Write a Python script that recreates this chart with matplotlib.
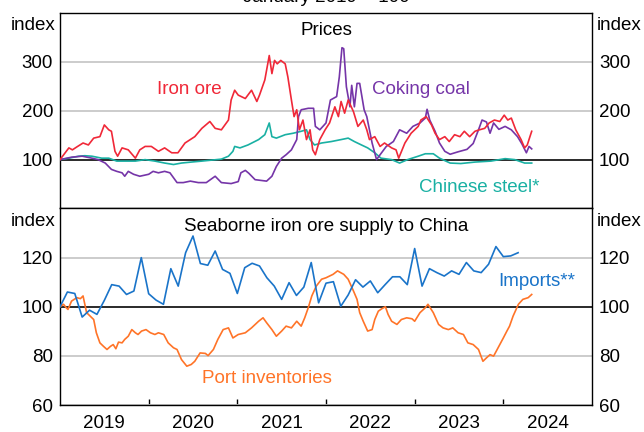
import matplotlib.pyplot as plt
from matplotlib.ticker import FixedLocator, NullFormatter

plt.rcParams['font.family'] = ['Liberation Sans', 'DejaVu Sans']

# ---- data: decimal years, index January 2019 = 100 ----
iron_dates = [2019.00, 2019.10, 2019.14, 2019.19, 2019.26, 2019.32, 2019.38, 2019.45, 2019.50, 2019.55,
              2019.58, 2019.62, 2019.65, 2019.70, 2019.77, 2019.85, 2019.90, 2019.96, 2020.03, 2020.11,
              2020.18, 2020.26, 2020.33, 2020.41, 2020.52, 2020.60, 2020.69, 2020.75, 2020.82, 2020.90,
              2020.93, 2020.97, 2021.01, 2021.09, 2021.16, 2021.22, 2021.25, 2021.31, 2021.36, 2021.39,
              2021.42, 2021.45, 2021.49, 2021.54, 2021.57, 2021.61, 2021.64, 2021.67, 2021.70, 2021.74,
              2021.78, 2021.82, 2021.85, 2021.88, 2021.93, 2021.99, 2022.04, 2022.10, 2022.14, 2022.17,
              2022.21, 2022.25, 2022.31, 2022.36, 2022.42, 2022.46, 2022.49, 2022.55, 2022.61, 2022.66,
              2022.74, 2022.79, 2022.82, 2022.89, 2022.96, 2023.04, 2023.07, 2023.13, 2023.19, 2023.23,
              2023.28, 2023.34, 2023.39, 2023.45, 2023.51, 2023.56, 2023.62, 2023.68, 2023.73, 2023.79,
              2023.84, 2023.90, 2023.96, 2024.01, 2024.05, 2024.09, 2024.14, 2024.20, 2024.24, 2024.27,
              2024.30, 2024.32]
iron_ore = [100, 124, 120, 126, 134, 130, 144, 147, 171, 161,
            158, 117, 107, 124, 120, 103, 120, 127, 127, 117,
            124, 114, 114, 134, 147, 164, 178, 164, 161, 181,
            222, 242, 232, 225, 242, 219, 232, 263, 313, 276,
            303, 296, 303, 296, 269, 222, 188, 202, 161, 181,
            141, 161, 120, 110, 141, 161, 175, 208, 188, 219,
            195, 222, 198, 168, 181, 161, 141, 147, 127, 134,
            124, 120, 103, 134, 154, 168, 181, 188, 171, 154,
            141, 147, 137, 151, 147, 158, 147, 158, 161, 164,
            175, 181, 178, 191, 181, 185, 161, 141, 124, 130,
            147, 158]

coal_dates = [2019.00, 2019.13, 2019.25, 2019.36, 2019.43, 2019.51, 2019.58, 2019.64, 2019.70, 2019.73,
              2019.77, 2019.83, 2019.90, 2020.00, 2020.05, 2020.11, 2020.18, 2020.24, 2020.32, 2020.39,
              2020.47, 2020.56, 2020.65, 2020.75, 2020.82, 2020.93, 2021.01, 2021.04, 2021.09, 2021.13,
              2021.20, 2021.33, 2021.39, 2021.44, 2021.50, 2021.55, 2021.61, 2021.67, 2021.69, 2021.72,
              2021.80, 2021.86, 2021.88, 2021.93, 2022.00, 2022.05, 2022.12, 2022.15, 2022.18, 2022.20,
              2022.23, 2022.27, 2022.29, 2022.32, 2022.35, 2022.38, 2022.43, 2022.46, 2022.52, 2022.57,
              2022.61, 2022.68, 2022.76, 2022.83, 2022.91, 2022.98, 2023.06, 2023.12, 2023.14, 2023.17,
              2023.23, 2023.28, 2023.34, 2023.40, 2023.49, 2023.59, 2023.66, 2023.72, 2023.76, 2023.81,
              2023.85, 2023.89, 2023.95, 2024.02, 2024.09, 2024.16, 2024.21, 2024.26, 2024.29, 2024.32]
coking_coal = [100, 105, 107, 103, 100, 93, 80, 76, 73, 66,
               76, 70, 66, 70, 76, 73, 76, 73, 53, 53,
               56, 53, 53, 66, 53, 51, 55, 73, 78, 72,
               59, 56, 66, 86, 103, 110, 120, 141, 188, 202,
               205, 205, 168, 161, 175, 222, 229, 269, 329, 327,
               249, 208, 252, 208, 256, 256, 202, 188, 134, 100,
               110, 127, 137, 161, 154, 168, 175, 185, 203, 181,
               158, 134, 117, 111, 116, 121, 133, 161, 181, 177,
               154, 175, 162, 168, 161, 147, 132, 114, 127, 122]

steel_dates = [2019.00, 2019.10, 2019.21, 2019.28, 2019.36, 2019.47, 2019.55, 2019.64, 2019.73, 2019.85,
               2019.96, 2020.07, 2020.18, 2020.28, 2020.37, 2020.48, 2020.60, 2020.71, 2020.82, 2020.90,
               2020.95, 2020.97, 2021.03, 2021.12, 2021.24, 2021.31, 2021.36, 2021.39, 2021.44, 2021.54,
               2021.63, 2021.72, 2021.78, 2021.82, 2021.87, 2021.95, 2022.06, 2022.17, 2022.25, 2022.32,
               2022.40, 2022.47, 2022.55, 2022.62, 2022.74, 2022.83, 2022.92, 2023.04, 2023.12, 2023.21,
               2023.28, 2023.40, 2023.52, 2023.68, 2023.86, 2024.02, 2024.13, 2024.24, 2024.32]
chinese_steel = [100, 103, 107, 108, 107, 103, 103, 97, 97, 97,
                 100, 97, 93, 90, 93, 95, 97, 99, 101, 107,
                 117, 127, 124, 130, 141, 151, 175, 147, 144, 151,
                 154, 158, 161, 141, 130, 134, 137, 141, 144, 137,
                 130, 124, 114, 103, 100, 93, 100, 107, 112, 112,
                 103, 93, 92, 95, 97, 102, 100, 93, 93]

# monthly imports, Jan 2019 - Mar 2024
import_months = [2019 + m / 12 for m in range(63)]
imports = [100, 106, 105.4, 95.8, 98.6, 96.9, 102.6, 109, 108.4, 105, 106.4, 120,
           105.3, 102.7, 101, 115.5, 108.4, 122, 128.8, 117.6, 116.9, 122.7, 115.2, 113.6,
           105.4, 115.9, 117.7, 116.6, 111.8, 108.4, 103, 109.8, 104.6, 108, 118, 101.6,
           109.6, 110.2, 100.2, 104.8, 111, 108, 110.5, 105.7, 109, 112.2, 112.2, 109,
           123.7, 108.4, 115.5, 113.9, 112.5, 114.6, 113.2, 118, 114.6, 113.9, 117.3, 124.5,
           120.4, 120.7, 122]

port_dates = [2019.00, 2019.04, 2019.07, 2019.09, 2019.13, 2019.19, 2019.23, 2019.26, 2019.30, 2019.34,
              2019.38, 2019.41, 2019.45, 2019.49, 2019.53, 2019.57, 2019.60, 2019.63, 2019.66, 2019.70,
              2019.73, 2019.77, 2019.81, 2019.85, 2019.88, 2019.92, 2019.97, 2020.02, 2020.07, 2020.11,
              2020.17, 2020.22, 2020.28, 2020.32, 2020.37, 2020.43, 2020.48, 2020.52, 2020.58, 2020.64,
              2020.67, 2020.73, 2020.78, 2020.84, 2020.90, 2020.95, 2021.01, 2021.09, 2021.16, 2021.24,
              2021.29, 2021.33, 2021.39, 2021.44, 2021.50, 2021.55, 2021.61, 2021.67, 2021.72, 2021.76,
              2021.80, 2021.84, 2021.89, 2021.95, 2022.00, 2022.08, 2022.13, 2022.20, 2022.25, 2022.31,
              2022.35, 2022.38, 2022.42, 2022.47, 2022.52, 2022.55, 2022.59, 2022.63, 2022.67, 2022.70,
              2022.74, 2022.80, 2022.85, 2022.91, 2022.97, 2023.00, 2023.06, 2023.12, 2023.15, 2023.21,
              2023.27, 2023.32, 2023.38, 2023.43, 2023.49, 2023.55, 2023.60, 2023.66, 2023.72, 2023.77,
              2023.81, 2023.85, 2023.89, 2023.92, 2023.96, 2024.00, 2024.04, 2024.07, 2024.11, 2024.17,
              2024.22, 2024.28, 2024.32]
port_inventories = [100, 101, 99.6, 98.9, 102.3, 103.7, 103.3, 104.4, 97.6, 96.2,
                    94.8, 89.4, 85.3, 83.9, 82.6, 83.9, 84.6, 82.9, 85.6, 85.3,
                    86.7, 88, 90.7, 89.4, 88.7, 90.1, 90.7, 89.4, 88.7, 89.4,
                    88.7, 85.3, 83.3, 82.6, 78.5, 75.8, 76.5, 77.8, 81.2, 81,
                    80.1, 82.6, 86.7, 90.7, 91.4, 87.3, 88.7, 89.4, 91.4, 94.1,
                    95.5, 93.5, 90.7, 88, 90.1, 92.1, 91.4, 94.1, 92.1, 95.5,
                    99.6, 104.4, 108.4, 111.2, 111.8, 113.2, 114.6, 113.2, 111.2, 106.4,
                    103, 97.6, 94.1, 90.1, 90.7, 94.8, 98.2, 99.2, 100, 96.9,
                    94.1, 92.8, 94.8, 95.5, 95.1, 94.1, 97.6, 99.6, 101, 97.6,
                    92.8, 91.4, 90.7, 91.4, 89.4, 88.7, 85.3, 84.6, 82.6, 77.8,
                    79.2, 80.5, 79.9, 81.9, 84.6, 87.3, 90.1, 92.1, 96.2, 101,
                    103, 103.7, 105]

years = [2019, 2020, 2021, 2022, 2023, 2024]

# ---- style ----
RED = '#F02838'
PURPLE = '#7535A8'
TEAL = '#19B0A3'
BLUE = '#1A74C9'
ORANGE = '#FF7428'
GRID = '#C8C8C8'
FS = 13.5
LW = 1.2

W, H = 644, 432
fig = plt.figure(figsize=(W / 100, H / 100), dpi=100)
ax1 = fig.add_axes([60 / W, 1 - 208.5 / H, 532 / W, 195.5 / H])
ax2 = fig.add_axes([60 / W, 27 / H, 532 / W, 196.5 / H])


def style_panel(ax, yticks, ylim, title):
    ax.set_xlim(years[0], years[-1] + 1)
    ax.set_ylim(*ylim)
    ax.set_yticks(yticks)
    ax.tick_params(axis='y', length=0, labelleft=True, labelright=True,
                   labelsize=FS, pad=5)
    ax.grid(axis='y', color=GRID, lw=1.3)
    ax.axhline(100, color='black', lw=1.1, zorder=2)
    for sp in ax.spines.values():
        sp.set_linewidth(1)
    ax.text(-0.008, 1 - 17.5 / 196, 'index', transform=ax.transAxes,
            ha='right', va='baseline', fontsize=FS)
    ax.text(1.008, 1 - 17.5 / 196, 'index', transform=ax.transAxes,
            ha='left', va='baseline', fontsize=FS)
    ax.text(0.5, 1 - 22 / 196, title, transform=ax.transAxes,
            ha='center', va='baseline', fontsize=FS)


style_panel(ax1, [100, 200, 300], (0, 400), 'Prices')
style_panel(ax2, [60, 80, 100, 120], (60, 140), 'Seaborne iron ore supply to China')

ax1.tick_params(axis='x', which='both', bottom=False, labelbottom=False)

ax2.xaxis.set_major_locator(FixedLocator(years[1:]))
ax2.xaxis.set_major_formatter(NullFormatter())
ax2.xaxis.set_minor_locator(FixedLocator([y + 0.5 for y in years]))
ax2.set_xticklabels([str(y) for y in years], minor=True)
ax2.tick_params(axis='x', which='major', direction='in', length=4.5, width=1)
ax2.tick_params(axis='x', which='minor', length=0, labelsize=FS, pad=7)

# ---- prices panel ----
ax1.plot(steel_dates, chinese_steel, color=TEAL, lw=LW, zorder=3)
ax1.plot(coal_dates, coking_coal, color=PURPLE, lw=LW, zorder=4)
ax1.plot(iron_dates, iron_ore, color=RED, lw=LW, zorder=5)
ax1.text(2020.46, 234, 'Iron ore', color=RED, fontsize=FS, ha='center', va='baseline')
ax1.text(2023.07, 235, 'Coking coal', color=PURPLE, fontsize=FS, ha='center', va='baseline')
ax1.text(2023.73, 33, 'Chinese steel*', color=TEAL, fontsize=FS, ha='center', va='baseline')

# ---- supply panel ----
ax2.plot(import_months, imports, color=BLUE, lw=LW, zorder=4)
ax2.plot(port_dates, port_inventories, color=ORANGE, lw=LW, zorder=3)
ax2.text(2024.38, 108.4, 'Imports**', color=BLUE, fontsize=FS, ha='center', va='baseline')
ax2.text(2021.33, 68.8, 'Port inventories', color=ORANGE, fontsize=FS, ha='center', va='baseline')

# title sits partly above the canvas, as in the source
fig.text((60 + 266) / W, 1 - 2 / H, 'January 2019 = 100', ha='center', va='baseline', fontsize=FS)

fig.savefig('out.png', dpi=100)
